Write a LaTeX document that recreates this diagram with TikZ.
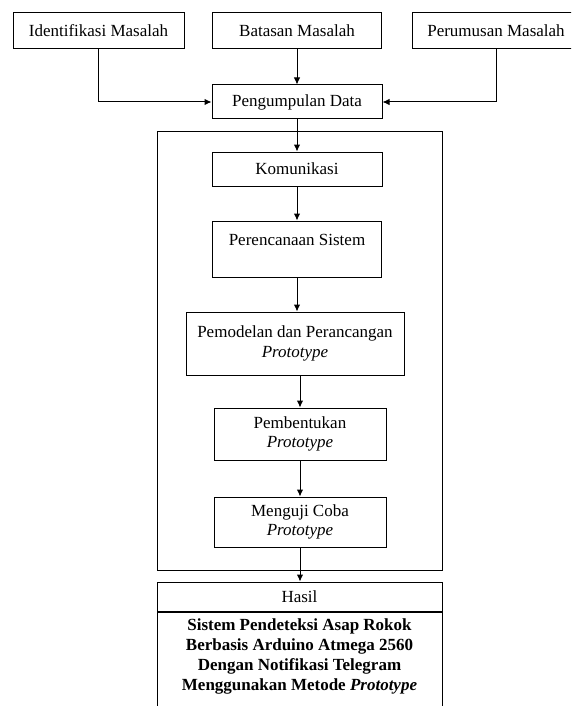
\documentclass[tikz,border=0pt]{standalone}
\usepackage{fontspec}
\setmainfont{Liberation Serif}
\usepackage{tikz}
\usetikzlibrary{arrows.meta}

\begin{document}
\begin{tikzpicture}[x=1pt, y=-1pt,
    kotak/.style={draw, line width=1pt, inner sep=2pt, align=center,
        font=\fontsize{17}{19.5}\selectfont},
    panah/.style={-{Latex[length=7pt, width=6.5pt]}, line width=1pt}
]

  % Bidang gambar
  \useasboundingbox (0,0) rectangle (571,706);
  \clip (0,0) rectangle (571,706);

  % Baris atas
  \node[kotak, minimum width=171pt, minimum height=36pt] (ident) at (98.5,31) {Identifikasi Masalah};
  \node[kotak, minimum width=169pt, minimum height=36pt] (batas) at (297,31) {Batasan Masalah};
  \node[kotak, minimum width=168pt, minimum height=36pt] (rumus) at (496,31) {Perumusan Masalah};

  \node[kotak, minimum width=170pt, minimum height=34pt] (kumpul) at (297,102) {Pengumpulan Data};

  % Bingkai tahapan prototype
  \node[draw, line width=1pt, minimum width=285pt, minimum height=439pt] (bingkai) at (299.5,350.5) {};

  \node[kotak, minimum width=170pt, minimum height=34pt] (komun) at (297,169) {Komunikasi};
  \node[kotak, minimum width=169pt, minimum height=56pt, text depth=18pt] (rencana) at (297,249) {Perencanaan Sistem};
  \node[kotak, minimum width=218pt, minimum height=63pt] (model) at (295,343.5) {Pemodelan dan Perancangan\\\textit{Prototype}};
  \node[kotak, minimum width=172pt, minimum height=52pt] (bentuk) at (300,434) {Pembentukan\\\textit{Prototype}};
  \node[kotak, minimum width=172pt, minimum height=50pt] (uji) at (300,522) {Menguji Coba\\\textit{Prototype}};

  % Hasil
  \node[kotak, minimum width=285pt, minimum height=29pt] (hasil) at (299.5,596.5) {Hasil};
  \node[kotak, anchor=north, minimum width=285pt, minimum height=110pt, text depth=25pt,
      font=\fontsize{17}{19.8}\selectfont\bfseries] (isi) at (hasil.south)
      {Sistem Pendeteksi Asap Rokok\\Berbasis Arduino Atmega 2560\\Dengan Notifikasi Telegram\\Menggunakan Metode \textit{Prototype}};

  % Panah
  \draw[panah] (ident.south) |- (kumpul.west);
  \draw[panah] (rumus.south) |- (kumpul.east);
  \draw[panah] (batas) -- (kumpul);
  \draw[panah] (kumpul) -- (komun);
  \draw[panah] (komun) -- (rencana);
  \draw[panah] (rencana.south) -- (rencana.south |- model.north);
  \draw[panah] (bentuk.north |- model.south) -- (bentuk.north);
  \draw[panah] (bentuk) -- (uji);
  \draw[panah] (uji.south) -- (uji.south |- hasil.north);

\end{tikzpicture}
\end{document}
